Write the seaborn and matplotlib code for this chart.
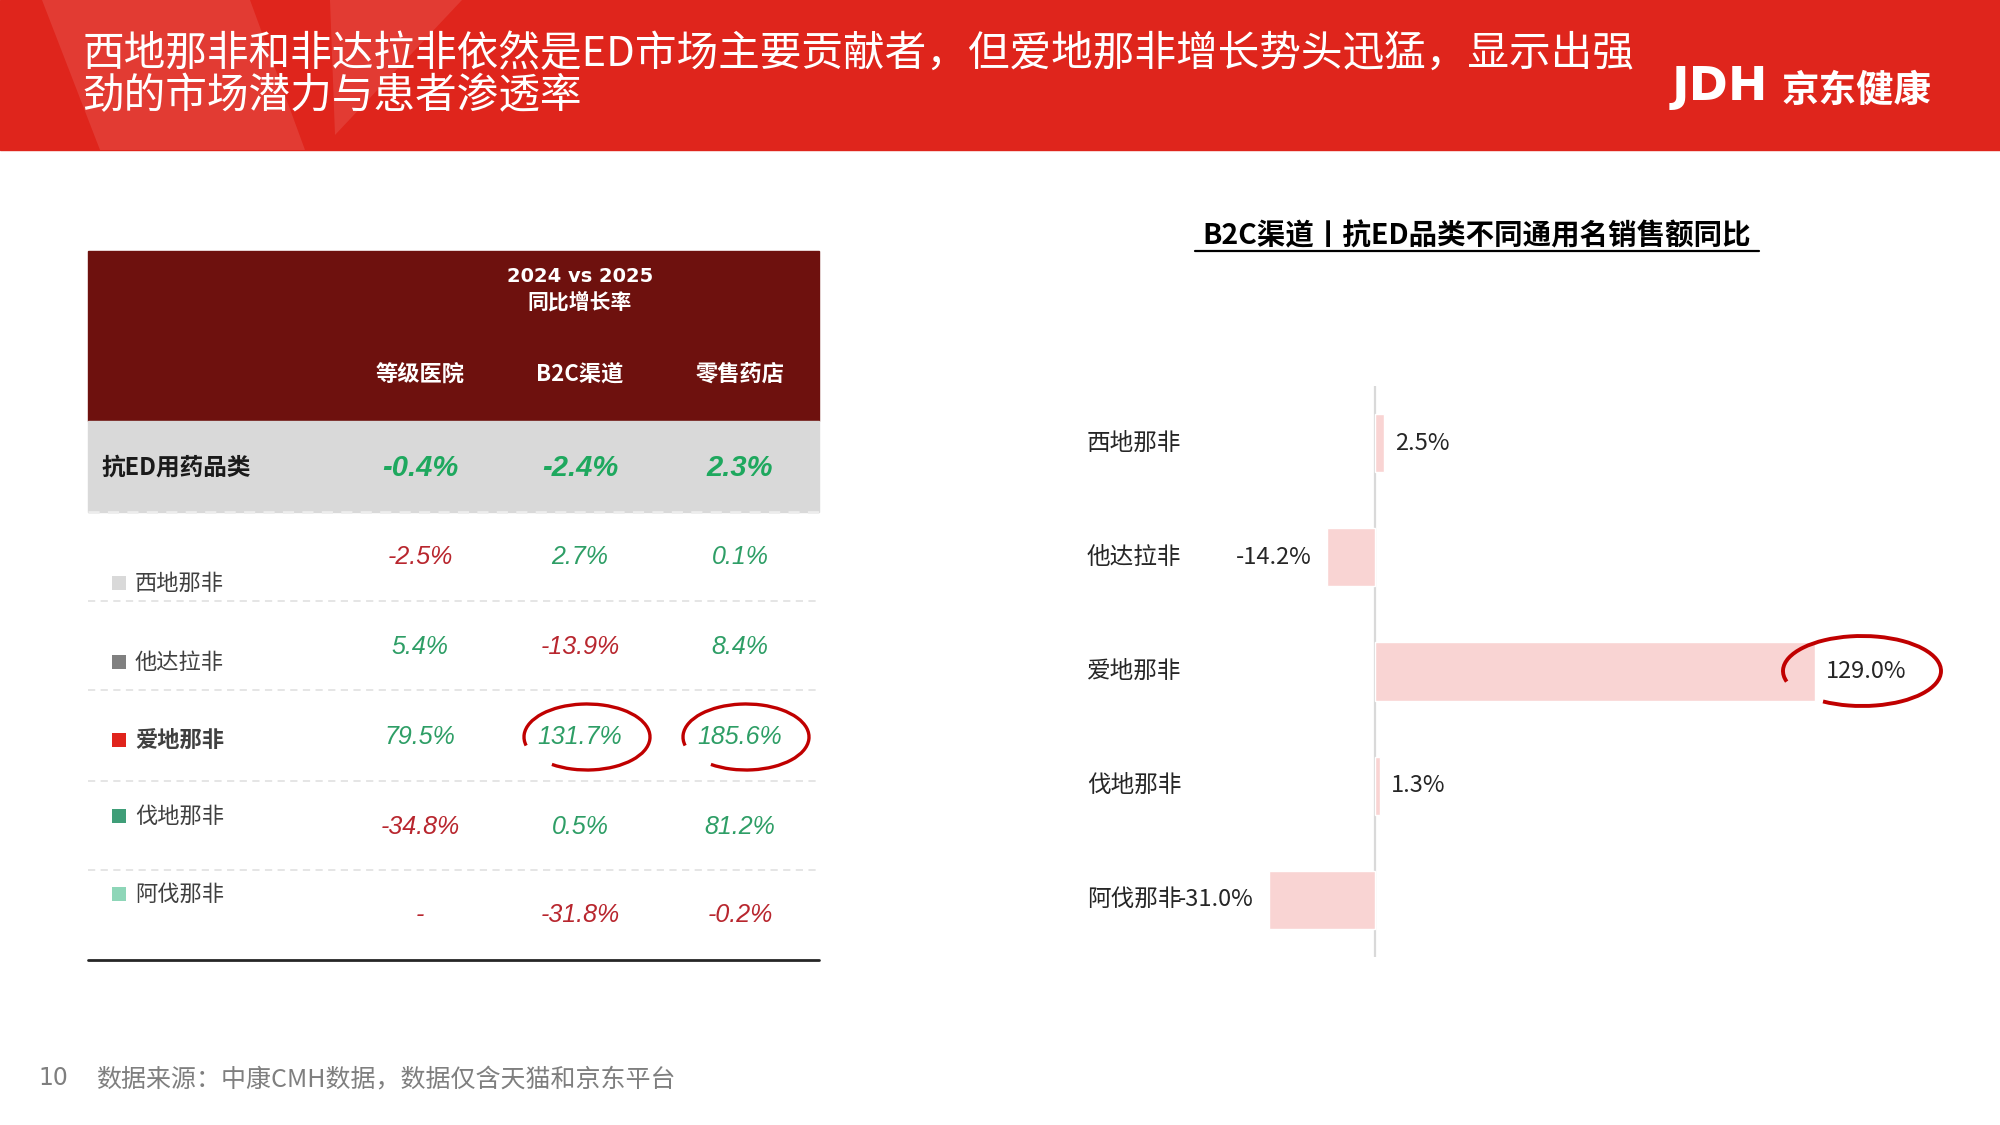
import numpy as np
import pandas as pd
import matplotlib
matplotlib.use("Agg")
import matplotlib.pyplot as plt
from matplotlib.patches import Rectangle, Polygon, Arc
import seaborn as sns

# ---- data ----
channels = ["等级医院", "B2C渠道", "零售药店"]
category_total = [-0.4, -2.4, 2.3]
drugs = ["西地那非", "他达拉非", "爱地那非", "伐地那非", "阿伐那非"]
hospital = [-2.5, 5.4, 79.5, -34.8, None]
b2c = [2.7, -13.9, 131.7, 0.5, -31.8]
retail = [0.1, 8.4, 185.6, 81.2, -0.2]
b2c_generic = [2.5, -14.2, 129.0, 1.3, -31.0]
legend_colors = ["#D9D9D9", "#808080", "#E0241C", "#3F9E78", "#8ED6B8"]

title_lines = ["西地那非和非达拉非依然是ED市场主要贡献者，但爱地那非增长势头迅猛，显示出强",
               "劲的市场潜力与患者渗透率"]
chart_title = "B2C渠道丨抗ED品类不同通用名销售额同比"
source_note = "数据来源：中康CMH数据，数据仅含天猫和京东平台"

sns.set_theme(style="white")
plt.rcParams["font.family"] = ["Noto Sans CJK SC", "DejaVu Sans"]

RED = "#DF251C"
NEG = "#B8262E"
POS = "#2E9E66"

fig = plt.figure(figsize=(20, 11.25), dpi=100)

# ---- bar chart (right) ----
ax = fig.add_axes([1060 / 2000, 1 - 957 / 1125, 900 / 2000, (957 - 386) / 1125])
df = pd.DataFrame({"drug": drugs, "yoy": b2c_generic})
sns.barplot(data=df, x="yoy", y="drug", orient="h", color="#F9D4D3",
            width=0.51, saturation=1, ax=ax)
ax.set_xlim(-92.4, 171.5)
ax.set_ylim(4.5, -0.5)
ax.axvline(0, color="#D9D9D9", lw=1.6, zorder=0)
ax.set_xticks([])
ax.set_yticks([])
ax.set_xlabel("")
ax.set_ylabel("")
ax.set_facecolor("none")
sns.despine(ax=ax, left=True, bottom=True)
for i, (name, v) in enumerate(zip(drugs, b2c_generic)):
    ax.text(0.03, i, name, transform=ax.get_yaxis_transform(), ha="left",
            va="center", fontsize=17, color="#262626")
    off = 8 if v >= 0 else -11
    ax.annotate(f"{v:.1f}%", (v, i), xytext=(off, 0), textcoords="offset points",
                ha="left" if v >= 0 else "right", va="center", fontsize=17,
                color="#262626")

# ---- overlay for slide elements ----
bg = fig.add_axes([0, 0, 1, 1])
bg.set_xlim(0, 2000)
bg.set_ylim(1125, 0)
bg.axis("off")
bg.set_facecolor("none")

# header band
bg.add_patch(Rectangle((0, 0), 2000, 150, color=RED, zorder=1))
bg.add_patch(Polygon([(42, 0), (250, 0), (305, 150), (100, 150)], closed=True,
                     color="white", alpha=0.10, lw=0, zorder=2))
bg.add_patch(Polygon([(330, 0), (462, 0), (335, 135)], closed=True,
                     color="white", alpha=0.10, lw=0, zorder=2))
bg.text(83, 54, title_lines[0], fontsize=30, color="white", va="center", zorder=3)
bg.text(83, 97, title_lines[1], fontsize=30, color="white", va="center", zorder=3)
bg.text(1672, 88, "JDH", fontsize=34, color="white", fontweight="bold",
        family="DejaVu Sans", va="center", zorder=3)
bg.text(1782, 90, "京东健康", fontsize=27, color="white", fontweight="bold",
        va="center", zorder=3)

# ---- table (left) ----
tx0, tx1 = 88, 819
col_x = [420, 580, 740]
bg.add_patch(Rectangle((tx0, 251), tx1 - tx0, 170, color="#6E110E", zorder=1))
bg.text(580, 276, "2024 vs 2025", fontsize=14, fontweight="bold", color="white",
        ha="center", va="center", family="DejaVu Sans")
bg.text(580, 302, "同比增长率", fontsize=15, fontweight="bold", color="white",
        ha="center", va="center")
for x, c in zip(col_x, channels):
    bg.text(x, 374, c, fontsize=16, fontweight="bold", color="white",
            ha="center", va="center")

bg.add_patch(Rectangle((tx0, 421), tx1 - tx0, 91, color="#D9D9D9", zorder=1))
bg.plot([tx0, tx1], [512, 512], color="#EDEDED", lw=2, ls=(0, (4, 3)))
bg.text(101, 468, "抗ED用药品类", fontsize=17, fontweight="bold", color="#1A1A1A",
        va="center")
for x, v in zip(col_x, category_total):
    bg.text(x, 468, f"{v:.1f}%", fontsize=21, fontweight="bold", style="italic",
            color="#1EA85E", ha="center", va="center", family="Liberation Sans")

value_y = [557, 647, 737, 827, 915]
label_y = [583, 662, 740, 816, 894]
for y in [601, 690, 781, 870]:
    bg.plot([tx0, tx1], [y, y], color="#E3E3E3", lw=1.3, ls=(0, (4, 3)))
for i, name in enumerate(drugs):
    bg.add_patch(Rectangle((112, label_y[i] - 7), 14, 14, color=legend_colors[i], lw=0))
    bg.text(135, label_y[i], name, fontsize=16, color="#404040", va="center",
            fontweight="bold" if i == 2 else "normal")
    for x, series in zip(col_x, [hospital, b2c, retail]):
        v = series[i]
        txt = "-" if v is None else f"{v:.1f}%"
        col = NEG if (v is None or v < 0) else POS
        bg.text(x, value_y[i], txt, fontsize=18, style="italic", color=col,
                ha="center", va="center", family="Liberation Sans")
bg.plot([tx0, tx1], [960, 960], color="#262626", lw=2)

# hand-drawn style highlight circles (gap on the left side)
for cx in [587, 746]:
    bg.add_patch(Arc((cx, 737), 126, 66, theta1=172, theta2=502, color="#C00000",
                     lw=2.4, zorder=5))
bg.add_patch(Arc((1862, 671), 158, 70, theta1=172, theta2=502, color="#C00000",
                 lw=2.8, zorder=5))

# chart title with underline
bg.text(1477, 236, chart_title, fontsize=20.5, fontweight="bold", color="black",
        ha="center", va="center")
bg.plot([1195, 1759], [251, 251], color="black", lw=1.6)

# footer
bg.text(38, 1078, "10", fontsize=17, color="#7F7F7F", va="center",
        family="DejaVu Sans")
bg.text(96, 1080, source_note, fontsize=18, color="#7F7F7F", va="center")

fig.savefig("out.png", dpi=100, facecolor="white")
